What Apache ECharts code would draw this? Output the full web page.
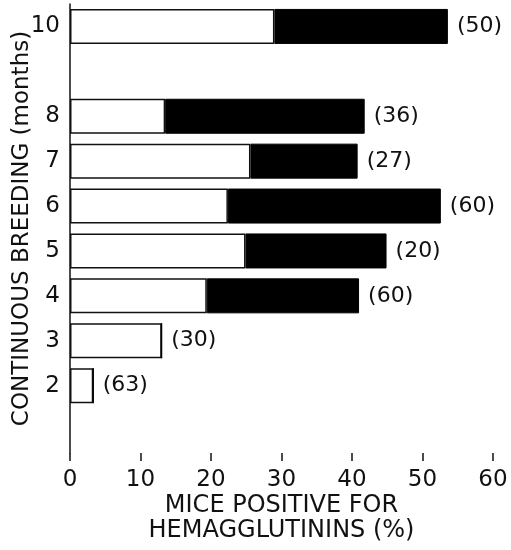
<!DOCTYPE html>
<html>
<head>
<meta charset="utf-8">
<script src="https://cdn.jsdelivr.net/npm/echarts@6/dist/echarts.min.js"></script>
<style>
html,body{margin:0;padding:0;background:#fff;}
#chart{width:511px;height:550px;}
</style>
</head>
<body>
<div id="chart"></div>
<script>
// months of continuous breeding (1 and 9 have no bar)
var months = ['1', '2', '3', '4', '5', '6', '7', '8', '9', '10'];
// white part of bar (%)
var whitePart = [null, 3.3, 13, 19.4, 24.9, 22.4, 25.6, 13.5, null, 29];
// black part of bar (%), stacked on the white
var blackPart = [null, 0, 0, 21.6, 20, 30.2, 15.2, 28.3, null, 24.6];
// number of mice tested, shown in brackets
var nMice = [null, 63, 30, 60, 20, 60, 27, 36, null, 50];
var xTicks = [0, 10, 20, 30, 40, 50, 60];

(function(){
	var myChart = echarts.init(document.getElementById('chart'));
	var font = '"DejaVu Sans", sans-serif';

	var option = {
		animation: false,
		grid: { left: 70, right: 18, top: 4, bottom: 97, outerBoundsMode: 'none', containLabel: false },
		xAxis: {
			type: 'value',
			min: xTicks[0],
			max: xTicks[xTicks.length - 1],
			interval: 10,
			name: 'MICE POSITIVE FOR\nHEMAGGLUTININS (%)',
			nameLocation: 'middle',
			nameGap: 40,
			nameMoveOverlap: false,
			nameTextStyle: { fontFamily: font, fontSize: 24, color: '#111', lineHeight: 25, verticalAlign: 'top' },
			axisLine: { lineStyle: { color: '#111', width: 1.5 } },
			axisTick: { show: true, inside: false, length: 8, lineStyle: { color: '#111', width: 1.5 } },
			axisLabel: { fontFamily: font, fontSize: 23, color: '#111', margin: 16 },
			splitLine: { show: false }
		},
		yAxis: {
			type: 'category',
			data: months,
			name: 'CONTINUOUS BREEDING (months)',
			nameLocation: 'middle',
			nameRotate: 90,
			nameGap: 36,
			nameMoveOverlap: false,
			nameTextStyle: { fontFamily: font, fontSize: 23, color: '#111' },
			axisLine: { lineStyle: { color: '#111', width: 1.5 } },
			axisTick: { show: false },
			axisLabel: {
				fontFamily: font, fontSize: 23, color: '#111', margin: 10,
				formatter: function(v){ return (v === '1' || v === '9') ? '' : v; }
			}
		},
		series: [
			{
				name: 'white',
				type: 'bar',
				stack: 'all',
				barWidth: 35,
				itemStyle: { color: '#fff', borderColor: '#111', borderWidth: 1.5 },
				data: whitePart
			},
			{
				name: 'black',
				type: 'bar',
				stack: 'all',
				barWidth: 35,
				itemStyle: { color: '#000', borderColor: '#000', borderWidth: 1 },
				label: {
					show: true,
					position: 'right',
					distance: 9,
					fontFamily: font,
					fontSize: 22,
					color: '#111',
					formatter: function(p){
						var n = nMice[p.dataIndex];
						return n == null ? '' : '(' + n + ')';
					}
				},
				data: blackPart
			}
		]
	};
	myChart.setOption(option);
	window.onresize = myChart.resize;
}())
</script>
</body>
</html>
